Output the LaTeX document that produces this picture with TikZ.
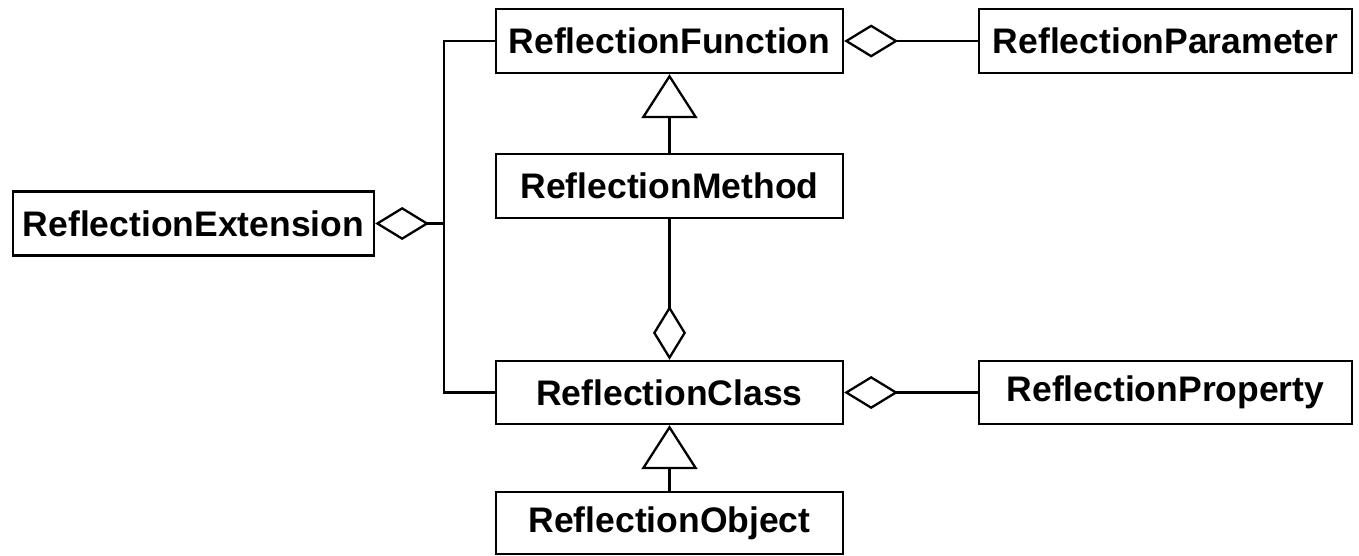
\documentclass[tikz,border=0pt]{standalone}
\usepackage{fontspec}
\setmainfont{Liberation Sans}
\usetikzlibrary{arrows.meta}
\begin{document}
\begin{tikzpicture}[x=1pt,y=-1pt,
  cls/.style={draw, line width=2.3pt, fill=white, inner sep=0pt, font=\fontsize{35.5}{40}\selectfont\bfseries, minimum height=64pt},
  conn/.style={line width=2.3pt},
  agg/.style={conn, {Diamond[open, length=54pt, width=33pt, line width=2.3pt]}-},
  gen/.style={conn, {Triangle[open, length=44pt, width=56pt, line width=2.3pt]}-}
]
\useasboundingbox (0,0) rectangle (1359,555);
\node[cls, minimum width=347pt] (RF) at (669.5,41) {ReflectionFunction};
\node[cls, minimum width=347pt] (RM) at (669.5,186) {ReflectionMethod};
\node[cls, minimum width=361pt] (RE) at (193.5,223.5) {ReflectionExtension};
\node[cls, minimum width=347pt, minimum height=63pt] (RC) at (669.5,392.5) {ReflectionClass};
\node[cls, minimum width=347pt, minimum height=62pt] (RO) at (669.5,523) {ReflectionObject};
\node[cls, minimum width=373pt] (RP) at (1165.5,41) {ReflectionParameter};
\node[cls, minimum width=373pt, minimum height=63pt] (RPr) at (1165.5,392.5) {ReflectionProperty};
\coordinate (j) at (444,223.5);
\draw[conn] (RF.west) -| (j) |- (RC.west);
\draw[agg] (RE.east) -- (j);
\draw[agg] (RF.east) -- (RP.west);
\draw[agg] (RC.east) -- (RPr.west);
\draw[agg] (RC.north) -- (RM.south);
\draw[gen] (RF.south) -- (RM.north);
\draw[gen] (RC.south) -- (RO.north);
\end{tikzpicture}
\end{document}
